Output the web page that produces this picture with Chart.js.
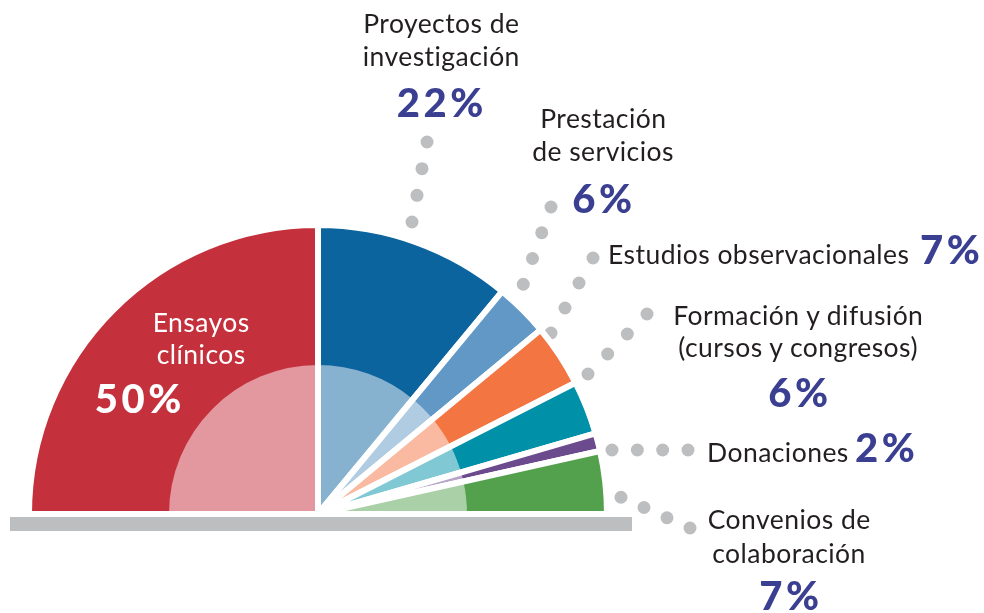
<!DOCTYPE html>
<html>
<head>
<meta charset="utf-8">
<script src="https://cdn.jsdelivr.net/npm/chart.js@4.4.1/dist/chart.umd.min.js"></script>
<style>
html,body{margin:0;padding:0;background:#fff;}
#wrap{position:relative;width:984px;height:613px;overflow:hidden;background:#fff;}
#wrap canvas{position:absolute;left:0;top:0;}
#base{position:absolute;left:10px;top:517px;width:622px;height:14px;background:#bdbec0;}
.t{position:absolute;white-space:nowrap;font-family:Lato,"Open Sans",sans-serif;line-height:1.2;}
</style>
</head>
<body>
<div id="wrap">
  <div id="base"></div>
  <canvas id="cOuter" width="984" height="613"></canvas>
  <canvas id="cInner" width="984" height="613"></canvas>
</div>
<script>
// ---------- data ----------
const categories = [
  'Ensayos clínicos',
  'Proyectos de investigación',
  'Prestación de servicios',
  'Estudios observacionales',
  'Formación y difusión (cursos y congresos)',
  'Donaciones',
  'Convenios de colaboración'
];
const shares = [50, 22, 6, 7, 6, 2, 7];
const labelLines = [
  ['Ensayos', 'clínicos'],
  ['Proyectos de', 'investigación'],
  ['Prestación', 'de servicios'],
  ['Estudios observacionales'],
  ['Formación y difusión', '(cursos y congresos)'],
  ['Donaciones'],
  ['Convenios de', 'colaboración']
];
const sliceColors = ['#c4313d', '#0c649e', '#6198c6', '#f37542', '#0090a8', '#6b4a8e', '#53a14c'];

// ---------- layout ----------
const W = 984, H = 613;
const CX = 318, CY = 514;
const R_OUT = 289, R_IN = 149;
const TEXT_COLOR = '#231f20', PCT_COLOR = '#3b3f91', DOT_COLOR = '#bdbec0';
const LABEL_SIZE = 26.5, LABEL_LS = 0.45, PCT_SIZE = 40, PCT_LS = 3.5;
// per category: line anchors [x, baseline], align, pct anchor
const LABEL_POS = [
  {align:'center', lines:[[201,332],[201,364]], pct:[138,413], pctAlign:'center', color:'#ffffff', pctColor:'#ffffff'},
  {align:'center', lines:[[441,33],[441,66]], pct:[440,117], pctAlign:'center'},
  {align:'center', lines:[[603,128],[603,161]], pct:[602,213], pctAlign:'center'},
  {align:'left',   lines:[[608,264]], pct:[920,264], pctAlign:'left'},
  {align:'center', lines:[[798,325],[798,357]], pct:[798,407], pctAlign:'center'},
  {align:'left',   lines:[[707,462]], pct:[855,462], pctAlign:'left'},
  {align:'center', lines:[[789,529],[789,563]], pct:[789,610], pctAlign:'center'}
];
// dotted leaders: outer end, inner end, number of dots (category index)
const LEADERS = [
  null,
  {a:[427,142], b:[412,222], n:4},
  {a:[551,207], b:[514,310], n:5},
  {a:[593,258], b:[551,333], n:4},
  {a:[647,314], b:[588,374], n:4},
  {a:[688,450], b:[612,450], n:4},
  {a:[690,528], b:[598,487], n:5}
];

function padFor(r){
  return {left:0, right:W - 2*CX, top:2*CY - r - H, bottom:0};
}

const leaderPlugin = {
  id:'leaders',
  beforeDatasetsDraw(chart){
    const ctx = chart.ctx;
    ctx.save();
    ctx.fillStyle = DOT_COLOR;
    LEADERS.forEach(l => {
      if(!l) return;
      for(let i=0;i<l.n;i++){
        const t = l.n>1 ? i/(l.n-1) : 0;
        const x = l.a[0] + (l.b[0]-l.a[0])*t;
        const y = l.a[1] + (l.b[1]-l.a[1])*t;
        ctx.beginPath();
        ctx.arc(x, y, 6.5, 0, Math.PI*2);
        ctx.fill();
      }
    });
    ctx.restore();
  }
};

const common = {
  responsive:false,
  animation:false,
  events:[],
  rotation:-90,
  circumference:180,
  plugins:{legend:{display:false}, tooltip:{enabled:false}}
};

new Chart(document.getElementById('cOuter'), {
  type:'pie',
  data:{labels:categories, datasets:[{data:shares, backgroundColor:sliceColors, borderColor:'#ffffff', borderWidth:6, clip:false}]},
  options:Object.assign({}, common, {radius:R_OUT, layout:{padding:padFor(R_OUT)}}),
  plugins:[leaderPlugin]
});

// lighter inner disc: white veil over the same slices
new Chart(document.getElementById('cInner'), {
  type:'pie',
  data:{labels:categories, datasets:[{data:shares, backgroundColor:'rgba(255,255,255,0.5)', borderWidth:0, clip:false}]},
  options:Object.assign({}, common, {radius:R_IN, layout:{padding:padFor(R_IN)}})
});

// ---------- text ----------
const wrap = document.getElementById('wrap');
function place(text, x, base, size, weight, color, align, ls){
  const d = document.createElement('div');
  d.className = 't';
  d.style.fontSize = size + 'px';
  d.style.fontWeight = weight;
  d.style.color = color;
  if(ls) d.style.letterSpacing = ls + 'px';
  d.appendChild(document.createTextNode(text));
  const m = document.createElement('span');
  m.style.cssText = 'display:inline-block;width:0;height:0;vertical-align:baseline;';
  d.appendChild(m);
  d.style.left = '0px'; d.style.top = '0px';
  wrap.appendChild(d);
  const b = m.offsetTop;
  const w = d.offsetWidth - (ls || 0);
  d.style.top = (base - b) + 'px';
  d.style.left = (align === 'center' ? x - w/2 : x) + 'px';
}
categories.forEach((c, i) => {
  const p = LABEL_POS[i];
  const col = p.color || TEXT_COLOR;
  labelLines[i].forEach((txt, j) => {
    place(txt, p.lines[j][0], p.lines[j][1], LABEL_SIZE, 400, col, p.align, LABEL_LS);
  });
  place(shares[i] + '%', p.pct[0], p.pct[1], PCT_SIZE, 900, p.pctColor || PCT_COLOR, p.pctAlign, PCT_LS);
});
</script>
</body>
</html>
